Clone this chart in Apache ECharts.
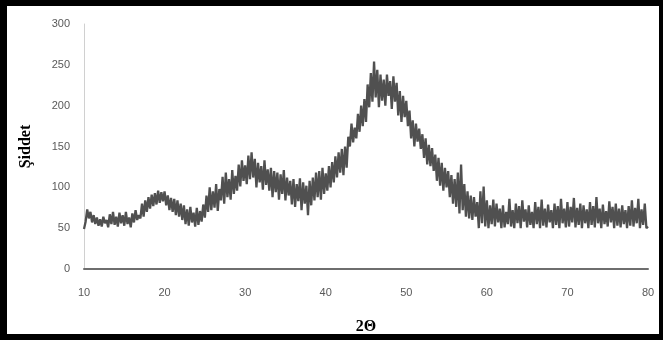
<!DOCTYPE html>
<html>
<head>
<meta charset="utf-8">
<script src="https://cdn.jsdelivr.net/npm/echarts@6/dist/echarts.min.js"></script>
<style>
  html, body { margin: 0; padding: 0; background: #fff; }
  #wrap { position: relative; width: 663px; height: 340px; }
  #chart { position: absolute; left: 0; top: 0; width: 663px; height: 340px; }
  #frame { position: absolute; left: 0; top: 0; width: 663px; height: 340px; box-sizing: border-box;
           border-style: solid; border-color: #000; border-width: 6px 4px 6px 7px; pointer-events: none; }
</style>
</head>
<body>
<div id="wrap"><div id="chart"></div><div id="frame"></div></div>
<script>
// 2Θ grid (degrees): start, step
const angleStart = 10;
const angleStep = 0.2;
// Intensity (Şiddet), one value per 0.2° from 10 to 80
const intensity = [
  49, 58, 73, 62, 70,   57, 66, 55, 63, 53,   61, 52, 64, 56, 60,   51, 67, 55, 70, 54,
  64, 52, 69, 56, 66,   53, 70, 55, 63, 51,   68, 57, 72, 60, 66,   62, 80, 64, 84, 70,
  88, 74, 91, 77, 93,   79, 96, 81, 94, 83,   95, 78, 90, 72, 87,   70, 86, 66, 84, 64,
  80, 60, 78, 55, 73,   53, 76, 57, 69, 52,   75, 54, 71, 58, 79,   63, 90, 70, 100, 72,
  95, 75, 104, 71, 98,  84, 113, 80, 118, 88, 110, 85, 121, 92, 114, 96, 128, 101, 133, 108,
  127, 104, 139, 110, 143, 112, 135, 100, 130, 106, 126, 97, 133, 103, 122, 96, 124, 88, 120, 94,
  118, 85, 116, 92, 121, 84, 112, 90, 108, 79, 110, 76, 104, 83, 111, 72, 106, 80, 102, 66,
  108, 78, 112, 84, 118, 88, 120, 85, 124, 92, 117, 96, 126, 100, 131, 106, 138, 112, 143, 118,
  147, 115, 150, 124, 162, 150, 178, 155, 173, 160, 190, 168, 200, 175, 208, 180, 226, 198, 240, 205,
  254, 210, 244, 198, 238, 206, 232, 200, 238, 212, 230, 196, 236, 205, 228, 188, 218, 180, 212, 186,
  206, 175, 194, 160, 182, 150, 178, 156, 172, 147, 165, 136, 160, 128, 152, 126, 148, 120, 140, 108,
  136, 102, 130, 96, 124, 100, 120, 88, 115, 80, 110, 76, 118, 68, 128, 72, 104, 64, 95, 62,
  90, 60, 88, 64, 82,   50, 95, 56, 101, 52,  84, 50, 78, 55, 85,   52, 80, 57, 74, 50,
  78, 51, 70, 55, 86,   52, 72, 50, 80, 56,   77, 50, 84, 58, 73,   51, 78, 54, 70, 50,
  82, 55, 76, 50, 85,   53, 74, 51, 79, 57,   72, 50, 80, 54, 77,   50, 86, 56, 74, 51,
  82, 52, 76, 57, 87,   51, 75, 54, 80, 50,   78, 56, 73, 50, 82,   54, 77, 51, 88, 56,
  74, 50, 79, 55, 71,   52, 83, 57, 76, 50,   80, 53, 74, 51, 78,   55, 72, 50, 77, 53,
  84, 52, 75, 56, 86,   50, 73, 54, 80, 50,
  52
];
const xTicks = { min: 10, max: 80, interval: 10 };
const yTicks = { min: 0, max: 300, interval: 50 };
const xTitle = '2Θ';
const yTitle = 'Şiddet';

const seriesData = intensity.map((v, i) => [+(angleStart + i * angleStep).toFixed(2), v]);

const chart = echarts.init(document.getElementById('chart'), null, { renderer: 'canvas' });
chart.setOption({
  animation: false,
  backgroundColor: '#fff',
  grid: { left: 84, right: 15, top: 24, bottom: 70, containLabel: false },
  xAxis: {
    type: 'value', min: xTicks.min, max: xTicks.max, interval: xTicks.interval,
    name: xTitle, nameLocation: 'middle', nameGap: 50,
    nameTextStyle: { fontFamily: 'Liberation Serif', fontWeight: 'bold', fontSize: 16, color: '#000' },
    axisLine: { show: true, lineStyle: { color: '#6e6e6e', width: 2 } },
    axisTick: { show: false },
    splitLine: { show: false },
    axisLabel: { color: '#595959', fontSize: 11, fontFamily: 'Liberation Sans', margin: 18 }
  },
  yAxis: {
    type: 'value', min: yTicks.min, max: yTicks.max, interval: yTicks.interval,
    name: yTitle, nameLocation: 'middle', nameGap: 50, nameRotate: 90,
    nameTextStyle: { fontFamily: 'Liberation Serif', fontWeight: 'bold', fontSize: 16, color: '#000' },
    axisLine: { show: true, lineStyle: { color: '#d0d0d0', width: 1 } },
    axisTick: { show: false },
    splitLine: { show: false },
    axisLabel: { color: '#595959', fontSize: 11, fontFamily: 'Liberation Sans', margin: 14 }
  },
  series: [{
    type: 'line', data: seriesData, showSymbol: false, symbol: 'none',
    lineStyle: { color: '#505050', width: 2.3 },
    clip: true
  }]
});
</script>
</body>
</html>
